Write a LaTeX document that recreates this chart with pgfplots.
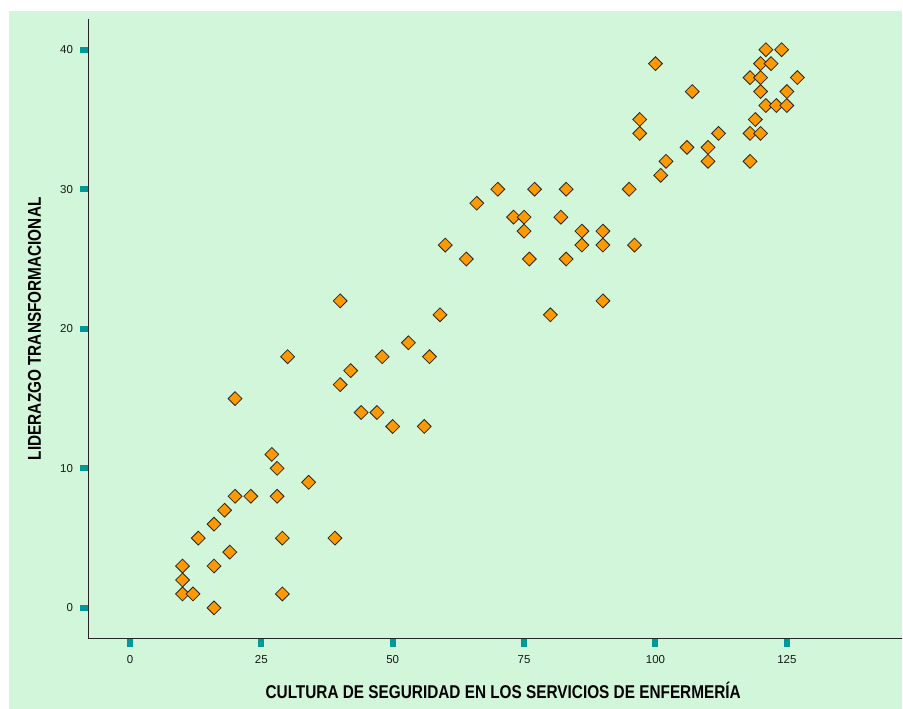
\documentclass[border=0pt]{standalone}
\usepackage{fontspec}
\setmainfont{Liberation Sans}
\newfontfamily\labfont[FakeStretch=0.83]{Liberation Sans}
\usepackage{pgfplots}
\pgfplotsset{compat=1.18}
\definecolor{bggreen}{RGB}{210,246,218}
\definecolor{tickteal}{RGB}{0,153,153}
\definecolor{markorange}{RGB}{255,153,0}

\pgfplotstableread{
x y
10 3
10 2
10 1
12 1
16 0
13 5
16 6
16 3
18 7
19 4
20 8
20 15
23 8
27 11
28 10
28 8
29 5
29 1
30 18
34 9
39 5
40 16
40 22
42 17
44 14
47 14
48 18
50 13
53 19
56 13
57 18
59 21
60 26
64 25
66 29
70 30
73 28
75 28
75 27
76 25
77 30
80 21
82 28
83 30
83 25
86 27
86 26
90 27
90 26
90 22
95 30
96 26
97 35
97 34
100 39
101 31
102 32
106 33
107 37
110 33
110 32
112 34
118 38
118 34
118 32
119 35
120 39
120 38
120 37
120 34
121 40
121 36
122 39
123 36
124 40
125 37
125 36
127 38
}\datatable

\begin{document}
\begin{tikzpicture}
% page background, 1pt = 1px of the reference
\fill[white] (0,0) rectangle (903pt,709pt);
\fill[bggreen] (9pt,0) rectangle (903pt,698pt);
\begin{axis}[
  at={(88.5pt,70pt)}, anchor=south west,
  scale only axis, width=814.5pt, height=620pt,
  xmin=-7.9, xmax=147, ymin=-2.2, ymax=42.2,
  axis x line=bottom, axis y line=left,
  axis line style={-, line width=1.1pt, black!85},
  xtick={0,25,...,125}, ytick={0,10,...,40},
  tick align=outside, major tick length=8pt,
  tick style={line width=6pt, tickteal},
  /pgf/number format/assume math mode=true,
  xticklabel style={font=\fontsize{11.5}{13}\selectfont, text=black!90, yshift=-5pt},
  yticklabel style={font=\fontsize{11.5}{13}\selectfont, text=black!90, xshift=-4pt},
  xlabel={CULTURA DE SEGURIDAD EN LOS SERVICIOS DE ENFERMERÍA},
  ylabel={LIDERAZGO TRANSFORMACIONAL},
  label style={font=\labfont\bfseries\fontsize{18.5}{20}\selectfont},
  xlabel style={at={(axis description cs:0.5095,-0.0968)}, anchor=base},
  ylabel style={at={(axis description cs:-0.0583,0.5)}, anchor=base},
  clip=false,
]
\addplot[only marks, mark=square*, mark size=4.9pt,
  mark options={rotate=45, fill=markorange, draw=black!85, line width=0.8pt}]
  table[x=x, y=y] {\datatable};
\end{axis}
\end{tikzpicture}
\end{document}
